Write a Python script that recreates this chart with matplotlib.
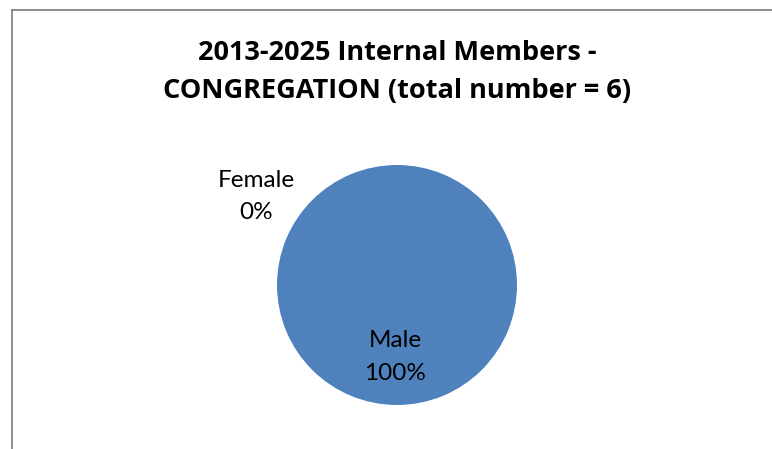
import matplotlib.pyplot as plt
from matplotlib.lines import Line2D

# data
categories = ["Female", "Male"]
counts = [0, 6]
colors = ["#C0504D", "#4F81BD"]
title = "2013-2025 Internal Members -\nCONGREGATION (total number = 6)"

W, H, DPI = 772, 449, 100
fig = plt.figure(figsize=(W / DPI, H / DPI), dpi=DPI)
fig.patch.set_facecolor("white")

# pie centre (397, 285) px, radius 120 px
cx, cy, r = 397, 285, 120
ax = fig.add_axes([(cx - 2 * r) / W, (H - cy - 2 * r) / H, 4 * r / W, 4 * r / H])
wedges, _ = ax.pie(counts, colors=colors, startangle=90, counterclock=False,
                   radius=1, wedgeprops=dict(linewidth=0))
ax.set_xlim(-2, 2)
ax.set_ylim(-2, 2)
ax.set_aspect("equal")
ax.axis("off")

total = sum(counts)
label_pos = {"Female": (-1.175, 0.735), "Male": (-0.017, -0.6)}
for name, n in zip(categories, counts):
    x, y = label_pos[name]
    ax.text(x, y, f"{name}\n{round(100 * n / total)}%", ha="center", va="center",
            fontsize=17.5, family="Lato", linespacing=1.65, color="black")

fig.text(cx / W, 1 - 72 / H, title, ha="center", va="center", fontsize=19.5,
         family="Open Sans", weight="bold", linespacing=1.6)

# chart frame (only top and left edges visible)
px = lambda v: v / W
py = lambda v: 1 - v / H
fig.add_artist(Line2D([px(11.5), px(11.5)], [py(9.5), 0], color="#868686", lw=1.3))
fig.add_artist(Line2D([px(11.5), 1], [py(9.5), py(9.5)], color="#868686", lw=1.3))

fig.savefig("out.png", dpi=DPI)
